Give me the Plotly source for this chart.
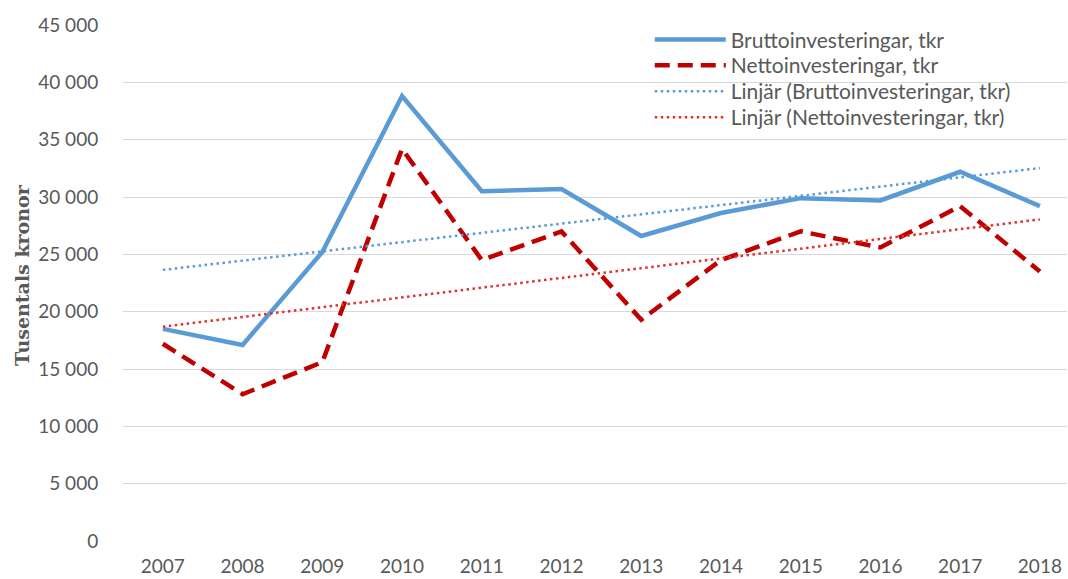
import numpy as np
import plotly.graph_objects as go

# Investment figures per year, thousands of SEK
years = list(range(2007, 2019))
brutto = [18500, 17100, 25200, 38800, 30500, 30700, 26600, 28600, 29900, 29700, 32200, 29200]
netto = [17200, 12800, 15600, 34200, 24500, 27000, 19300, 24500, 27000, 25600, 29200, 23500]

y_ticks = list(range(0, 45001, 5000))
y_tick_labels = [f"{v:,}".replace(",", " ") for v in y_ticks]

# Linear trend lines (least squares), as in a spreadsheet "Linjär" trendline
def linear_trend(xs, ys):
    k, m = np.polyfit(xs, ys, 1)
    return [k * x + m for x in xs]

brutto_trend = linear_trend(years, brutto)
netto_trend = linear_trend(years, netto)

BLUE = "#5B9BD5"
DARK_RED = "#C00000"
RED = "#E3302C"
GREY = "#595959"
FONT = "Lato"

fig = go.Figure()
fig.add_trace(go.Scatter(
    x=years, y=brutto, mode="lines", name="Bruttoinvesteringar, tkr",
    line=dict(color=BLUE, width=4.5), legend="legend"))
fig.add_trace(go.Scatter(
    x=years, y=netto, mode="lines", name="Nettoinvesteringar, tkr",
    line=dict(color=DARK_RED, width=4.5, dash="15px,8px"), legend="legend2"))
fig.add_trace(go.Scatter(
    x=years, y=brutto_trend, mode="lines", name="Linjär (Bruttoinvesteringar, tkr)",
    line=dict(color=BLUE, width=2.5, dash="2.5px,3.5px"), legend="legend3"))
fig.add_trace(go.Scatter(
    x=years, y=netto_trend, mode="lines", name="Linjär (Nettoinvesteringar, tkr)",
    line=dict(color=RED, width=2.5, dash="2.5px,3.5px"), legend="legend4"))

# One legend box per entry so the rows sit at a fixed spacing
def legend_row(y):
    return dict(
        x=0.558, y=y, xanchor="left", yanchor="middle",
        bgcolor="rgba(0,0,0,0)", font=dict(family=FONT, size=21, color=GREY),
        itemwidth=71,
    )

fig.update_layout(
    width=1068, height=579,
    margin=dict(l=123, r=1, t=25, b=38),
    paper_bgcolor="white", plot_bgcolor="white",
    font=dict(family=FONT, color=GREY, size=19),
    showlegend=True,
    legend=legend_row(0.971),
    legend2=legend_row(0.9215),
    legend3=legend_row(0.8711),
    legend4=legend_row(0.8207),
    annotations=[dict(
        text="<b>Tusentals kronor</b>", textangle=-90,
        xref="paper", yref="paper", x=-0.107, y=0.5155,
        xanchor="center", yanchor="middle", showarrow=False,
        font=dict(family="DejaVu Serif", size=19, color=GREY),
    )],
)

fig.update_xaxes(
    range=[2006.5, 2018.34], tickmode="array", tickvals=years,
    ticktext=[str(y) for y in years],
    showgrid=False, zeroline=False, showline=False,
    ticks="outside", ticklen=8, tickcolor="rgba(0,0,0,0)",
    tickfont=dict(family=FONT, size=19, color=GREY),
)
fig.update_yaxes(
    range=[0, 45000], tickmode="array", tickvals=y_ticks, ticktext=y_tick_labels,
    showgrid=True, gridcolor="#D9D9D9", gridwidth=1,
    zeroline=False, showline=False,
    ticks="outside", ticklen=20, tickcolor="rgba(0,0,0,0)",
    tickfont=dict(family=FONT, size=19, color=GREY),
)

fig.write_html("out.html")
